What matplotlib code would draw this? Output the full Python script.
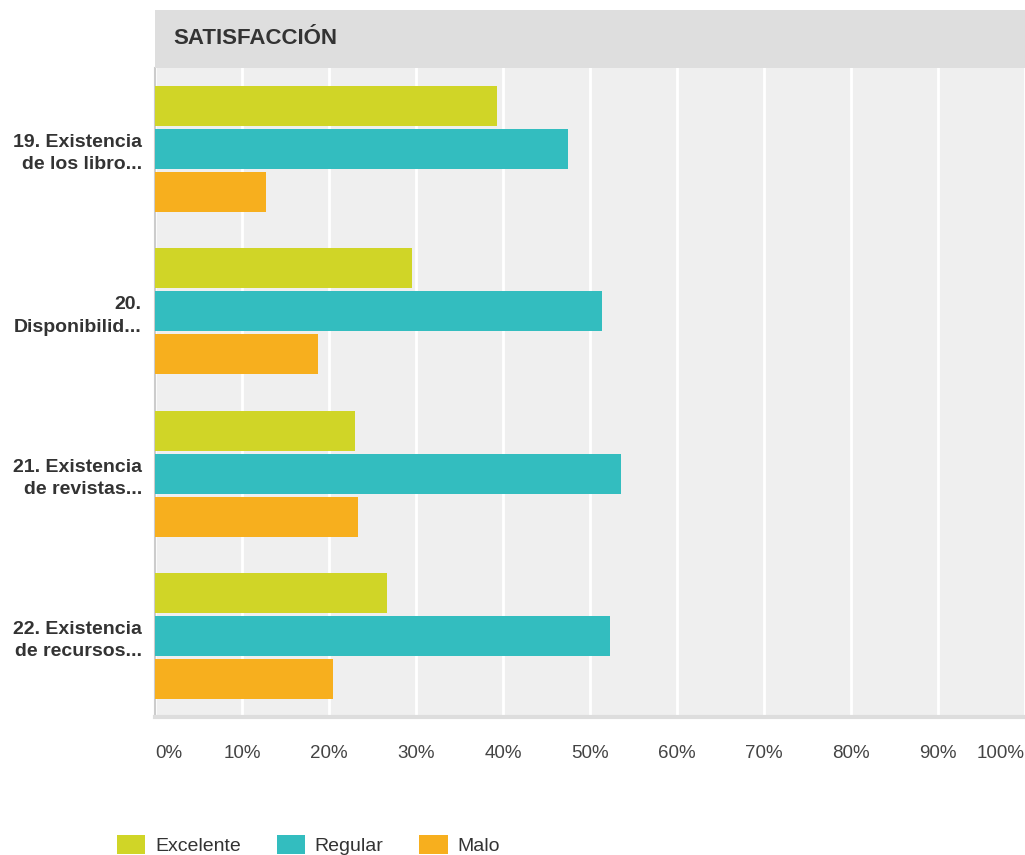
import matplotlib.pyplot as plt
from matplotlib.patches import Rectangle, Patch
import numpy as np

plt.rcParams['font.family'] = ['Liberation Sans', 'DejaVu Sans']

preguntas = ["19. Existencia\nde los libro...", "20.\nDisponibilid...",
             "21. Existencia\nde revistas...", "22. Existencia\nde recursos..."]
series = ["Excelente", "Regular", "Malo"]
excelente = [39.3, 29.5, 23.0, 26.7]
regular = [47.5, 51.4, 53.6, 52.3]
malo = [12.8, 18.7, 23.3, 20.5]
colores = ["#d0d527", "#33bdbf", "#f7af1e"]
ticks = [0, 10, 20, 30, 40, 50, 60, 70, 80, 90, 100]

fig = plt.figure(figsize=(10.25, 8.55), dpi=100)
ax = fig.add_axes([155 / 1025, 1 - 717 / 855, 870 / 1025, 649 / 855])
ax.set_facecolor("#efefef")

# banda del encabezado
fig.patches.append(Rectangle((155 / 1025, 1 - 68 / 855), 870 / 1025, 58 / 855,
                             transform=fig.transFigure, facecolor="#dedede",
                             edgecolor="none", zorder=0))
fig.text(173 / 1025, 1 - 44 / 855, "SATISFACCIÓN", fontsize=16, fontweight="bold",
         color="#333333", va="baseline", ha="left")

y = np.arange(len(preguntas))
alto = 0.247
paso = 0.265
for i, (vals, col) in enumerate(zip([excelente, regular, malo], colores)):
    ax.barh(y + (i - 1) * paso, vals, height=alto, color=col, zorder=3)

ax.set_xlim(0, 100)
ax.set_ylim(len(preguntas) - 0.5, -0.5)
ax.set_xticks(ticks)
ax.xaxis.grid(True, color="white", linewidth=2, zorder=1)
ax.set_axisbelow(True)
ax.tick_params(axis="x", length=0, pad=20, labelsize=13.5, labelcolor="#444444")
ax.tick_params(axis="y", length=0, pad=9.5)
ax.set_xticklabels([f"{t}%" for t in ticks])
for lab, t in zip(ax.get_xticklabels(), ticks):
    if t == 0:
        lab.set_ha("left")
    elif t == 100:
        lab.set_ha("right")
ax.set_yticks(y)
ax.set_yticklabels(preguntas, fontsize=14, fontweight="bold", color="#333333",
                   ha="right", multialignment="right", linespacing=1.4)

for s in ["top", "right"]:
    ax.spines[s].set_visible(False)
ax.spines["left"].set_color("#cccccc")
ax.spines["left"].set_linewidth(1.5)
ax.spines["bottom"].set_color("#dddddd")
ax.spines["bottom"].set_linewidth(3)

handles = [Patch(facecolor=c, edgecolor="none", label=s) for c, s in zip(colores, series)]
fig.legend(handles=handles, loc="center left", bbox_to_anchor=(117 / 1025, 1 - 845 / 855),
           ncol=3, frameon=False, fontsize=14, handlelength=1.45, handleheight=1.15,
           columnspacing=1.85, handletextpad=0.5, labelcolor="#333333",
           borderpad=0, borderaxespad=0)

fig.savefig("out.png", dpi=100)
